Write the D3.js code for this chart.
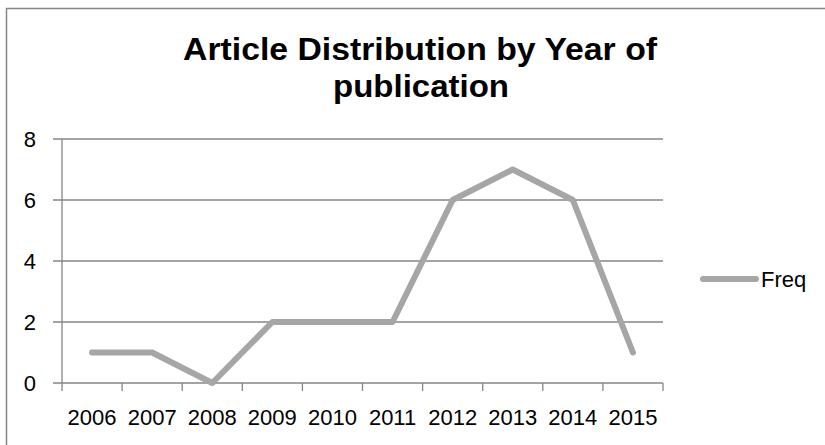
<!DOCTYPE html>
<html><head><meta charset="utf-8">
<script src="https://cdn.jsdelivr.net/npm/d3@7"></script>
<style>body{margin:0;background:#fff}svg{display:block}text{font-family:"Liberation Sans",Arial,sans-serif}</style>
</head><body>
<svg id="c" width="825" height="445"></svg>
<script>
const years = ["2006","2007","2008","2009","2010","2011","2012","2013","2014","2015"];
const freq = [1,1,0,2,2,2,6,7,6,1];
const yTicks = [0,2,4,6,8];
const titleLines = ["Article Distribution by Year of","publication"];
const seriesName = "Freq";

const svg = d3.select("#c");
svg.append("rect").attr("x",6.5).attr("y",8.5).attr("width",830).attr("height",450)
  .attr("fill","none").attr("stroke","#868686").attr("stroke-width",1.5);

const L=62, R=663, T=139, B=383;
const x = d3.scaleBand().domain(years).range([L,R]).padding(0);
const y = d3.scaleLinear().domain([0,8]).range([B,T]);

svg.append("g").selectAll("line").data(yTicks).join("line")
  .attr("x1",53).attr("x2",R).attr("y1",d=>y(d)).attr("y2",d=>y(d))
  .attr("stroke","#868686").attr("stroke-width",1.3);
svg.append("line").attr("x1",L).attr("x2",L).attr("y1",T).attr("y2",B)
  .attr("stroke","#868686").attr("stroke-width",1.3);
const bounds = years.map(d=>x(d)).concat([R]);
svg.append("g").selectAll("line").data(bounds).join("line")
  .attr("x1",d=>d).attr("x2",d=>d).attr("y1",B).attr("y2",B+8)
  .attr("stroke","#868686").attr("stroke-width",1.3);

svg.append("g").selectAll("text").data(yTicks).join("text")
  .attr("x",36).attr("y",d=>y(d)+8).attr("text-anchor","end")
  .attr("font-size",22).attr("fill","#000").text(d=>d);
svg.append("g").selectAll("text").data(years).join("text")
  .attr("x",d=>x(d)+x.bandwidth()/2).attr("y",425).attr("text-anchor","middle")
  .attr("font-size",22).attr("fill","#000").text(d=>d);

const line = d3.line().x((d,i)=>x(years[i])+x.bandwidth()/2).y(d=>y(d));
svg.append("path").datum(freq).attr("d",line).attr("fill","none")
  .attr("stroke","#a6a6a6").attr("stroke-width",6).attr("stroke-linejoin","round").attr("stroke-linecap","round");

svg.append("text").attr("x",420).attr("y",60).attr("text-anchor","middle")
  .attr("font-weight","bold").attr("font-size",31).attr("fill","#000")
  .attr("textLength",474).attr("lengthAdjust","spacingAndGlyphs").text(titleLines[0]);
svg.append("text").attr("x",421).attr("y",97).attr("text-anchor","middle")
  .attr("font-weight","bold").attr("font-size",31).attr("fill","#000")
  .attr("textLength",176).attr("lengthAdjust","spacingAndGlyphs").text(titleLines[1]);

svg.append("line").attr("x1",703).attr("x2",756).attr("y1",279).attr("y2",279)
  .attr("stroke","#a6a6a6").attr("stroke-width",6).attr("stroke-linecap","round");
svg.append("text").attr("x",761).attr("y",287).attr("font-size",22).attr("fill","#000").text(seriesName);
</script>
</body></html>
